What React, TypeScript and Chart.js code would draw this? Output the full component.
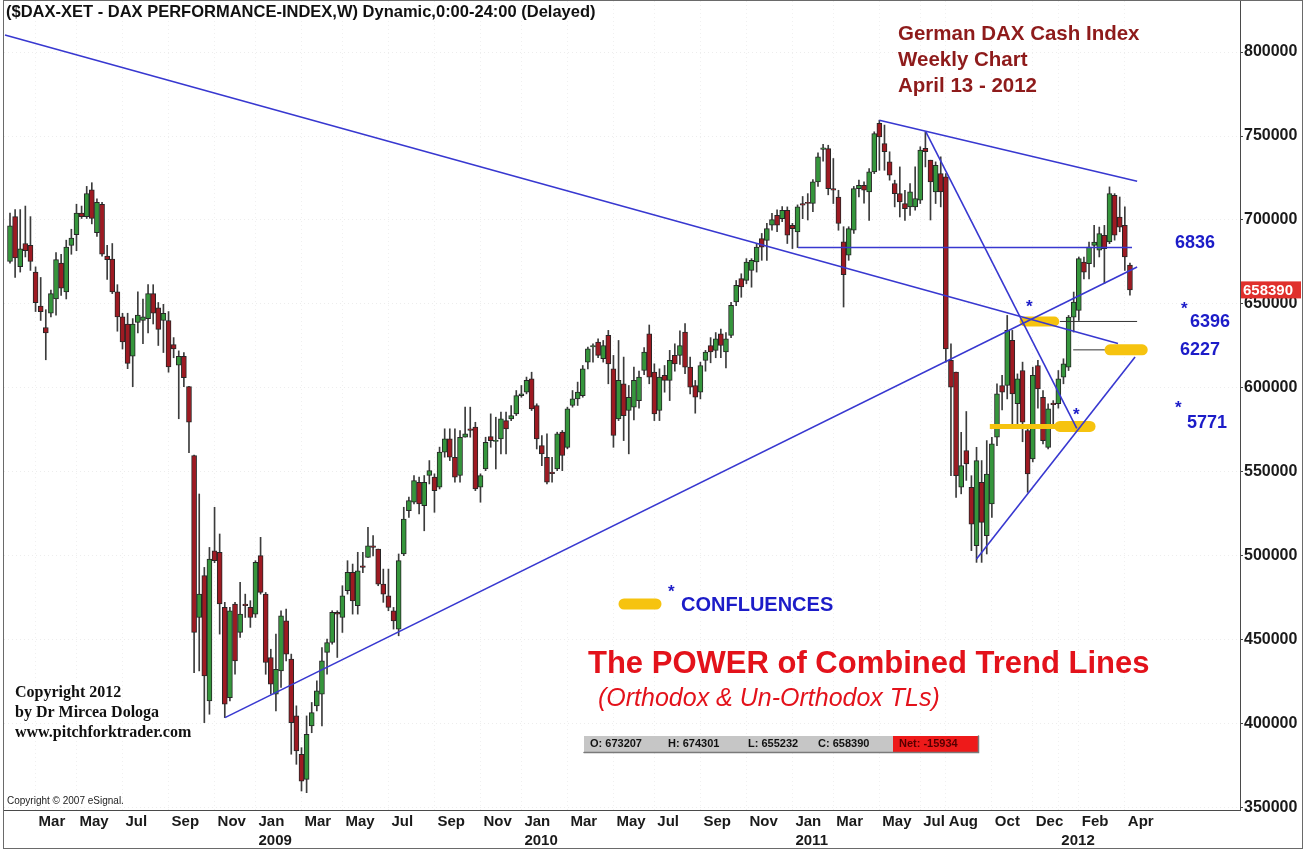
import React, { useEffect, useRef } from 'react';
import { Chart, registerables } from 'chart.js';

Chart.register(...registerables);

// Weekly candles, index 0 = week ending 1 Feb 2008, index 219 = week ending 13 Apr 2012 (index points)
const OPEN = [
  6753, 7020, 6722, 6860, 6849, 6690, 6487, 6360, 6445, 6530,
  6743, 6572, 6849, 6913, 7041, 7020, 7179, 6924, 7094, 6785,
  6768, 6572, 6423, 6381, 6189, 6391, 6402, 6413, 6562, 6477,
  6402, 6402, 6258, 6136, 6189, 6008, 5598, 4634, 4883, 4137,
  5031, 5022, 4694, 4157, 4714, 4545, 4714, 4694, 4654, 5002,
  4773, 4396, 4177, 4316, 4614, 4386, 4048, 3820, 3670, 3988,
  4108, 4177, 4426, 4485, 4664, 4634, 4793, 4902, 4704, 4942,
  4992, 5061, 5041, 4833, 4763, 4674, 4565, 5012, 5270, 5320,
  5439, 5300, 5479, 5469, 5409, 5618, 5697, 5588, 5479, 5707,
  5757, 5767, 5409, 5518, 5711, 5682, 5697, 5806, 5816, 5846,
  5955, 5975, 6055, 5896, 5657, 5588, 5499, 5518, 5737, 5647,
  5896, 5935, 5955, 6154, 6245, 6273, 6174, 6313, 6114, 5816,
  6025, 5866, 5886, 5925, 6104, 6323, 6094, 5866, 6075, 6045,
  6194, 6194, 6333, 6124, 6015, 5975, 6164, 6253, 6224, 6323,
  6214, 6313, 6512, 6651, 6641, 6700, 6750, 6889, 6879, 6969,
  7028, 7008, 7058, 6969, 6929, 7098, 7105, 7098, 7227, 7420,
  7425, 7187, 7137, 6870, 6790, 6939, 7187, 7207, 7167, 7286,
  7575, 7455, 7346, 7217, 7157, 7098, 7078, 7078, 7118, 7426,
  7356, 7167, 7277, 7257, 6164, 6094, 5409, 5628, 5409, 5061,
  5439, 5121, 5310, 5707, 6015, 6015, 6283, 5906, 6104, 5747,
  5578, 6134, 5945, 5647, 5910, 5906, 6065, 6124, 6422, 6462,
  6750, 6740, 6849, 6820, 6909, 6869, 7147, 7018, 6968, 6732.07,
];
const HIGH = [
  7041, 7062, 7062, 7083, 7020, 6721, 6658, 6466, 6583, 6806,
  6796, 6880, 6945, 7094, 7083, 7200, 7222, 7126, 7105, 6849,
  6860, 6615, 6445, 6445, 6413, 6572, 6530, 6615, 6615, 6509,
  6498, 6455, 6300, 6221, 6211, 6010, 5600, 5369, 4932, 5051,
  5290, 5131, 4724, 4694, 4724, 4843, 4773, 4734, 4972, 5111,
  4783, 4445, 4535, 4674, 4684, 4416, 4108, 3859, 4048, 4128,
  4257, 4455, 4505, 4674, 4674, 4823, 4972, 4952, 5022, 5022,
  5171, 5121, 5041, 4922, 4922, 4694, 5012, 5290, 5350, 5479,
  5469, 5479, 5568, 5489, 5648, 5757, 5757, 5757, 5747, 5886,
  5886, 5796, 5489, 5707, 5846, 5826, 5856, 5856, 5896, 5985,
  6015, 6065, 6094, 5906, 5717, 5727, 5588, 5737, 5747, 5886,
  5985, 6035, 6134, 6243, 6263, 6293, 6283, 6343, 6194, 6283,
  6184, 6015, 6124, 6100, 6240, 6375, 6144, 6114, 6134, 6224,
  6263, 6340, 6383, 6184, 6045, 6154, 6224, 6300, 6330, 6350,
  6330, 6510, 6640, 6680, 6770, 6770, 6860, 6920, 6980, 7040,
  7060, 7080, 7078, 6980, 7090, 7140, 7157, 7240, 7400, 7450,
  7445, 7366, 7177, 6960, 6960, 7200, 7237, 7227, 7306, 7525,
  7594, 7565, 7406, 7237, 7316, 7177, 7217, 7316, 7436, 7525,
  7356, 7346, 7376, 7277, 6263, 6094, 5736, 5860, 5478, 5647,
  5568, 5687, 5707, 6025, 6075, 6432, 6343, 6084, 6154, 5776,
  6124, 6164, 5985, 5906, 5925, 6104, 6174, 6432, 6571, 6780,
  6780, 6869, 6968, 6958, 6968, 7197, 7157, 7137, 7078, 6743.01,
];
const LOW = [
  6743, 6658, 6690, 6780, 6700, 6455, 6402, 6168, 6423, 6434,
  6551, 6530, 6796, 6817, 7009, 7009, 6977, 6902, 6785, 6647,
  6562, 6338, 6232, 6115, 6008, 6328, 6264, 6328, 6381, 6253,
  6211, 6094, 6180, 5817, 6008, 5615, 4306, 4316, 4008, 4058,
  4960, 4535, 4038, 4138, 4296, 4515, 4634, 4575, 4634, 4773,
  4296, 4177, 4078, 4217, 4376, 3820, 3760, 3601, 3591, 3948,
  4078, 3988, 4296, 4475, 4396, 4545, 4773, 4654, 4654, 4900,
  4992, 5000, 4823, 4724, 4674, 4565, 4525, 5002, 5230, 5310,
  5250, 5150, 5429, 5260, 5399, 5588, 5568, 5439, 5439, 5707,
  5707, 5389, 5320, 5508, 5647, 5518, 5608, 5608, 5806, 5836,
  5945, 5965, 5866, 5637, 5538, 5429, 5439, 5508, 5508, 5638,
  5886, 5896, 5945, 6114, 6154, 6180, 6154, 6025, 5647, 5806,
  5687, 5608, 5810, 5880, 6080, 6025, 5806, 5806, 5975, 5925,
  6100, 6140, 6085, 5965, 5850, 5935, 6100, 6150, 6180, 6180,
  6120, 6300, 6490, 6540, 6620, 6600, 6690, 6760, 6760, 6940,
  6930, 6990, 6860, 6830, 6836, 7008, 7000, 7050, 7200, 7350,
  7150, 7098, 6939, 6482, 6760, 6920, 7137, 7100, 6998, 7276,
  7296, 7296, 7237, 7078, 7018, 6998, 7028, 7058, 7098, 7316,
  7000, 7098, 7078, 6154, 5478, 5349, 5370, 5450, 5032, 4962,
  4962, 5012, 5230, 5657, 5870, 5935, 5786, 5786, 5680, 5379,
  5560, 5880, 5667, 5637, 5767, 5880, 6025, 6104, 6333, 6402,
  6650, 6650, 6720, 6780, 6621, 6859, 6880, 6930, 6700, 6552.32,
];
const CLOSE = [
  6966, 6775, 6828, 6817, 6753, 6508, 6455, 6328, 6562, 6764,
  6594, 6839, 6892, 7041, 7020, 7158, 7009, 7105, 6796, 6764,
  6572, 6423, 6274, 6147, 6381, 6434, 6423, 6562, 6445, 6349,
  6445, 6125, 6232, 6189, 6062, 5796, 4545, 4773, 4286, 4982,
  4972, 4714, 4118, 4674, 4376, 4654, 4704, 4634, 4962, 4783,
  4366, 4237, 4326, 4644, 4416, 4008, 3840, 3660, 3939, 4068,
  4197, 4376, 4485, 4664, 4654, 4763, 4902, 4733, 4912, 4932,
  5061, 5051, 4833, 4773, 4694, 4614, 4972, 5220, 5330, 5449,
  5310, 5439, 5508, 5389, 5618, 5697, 5588, 5469, 5707, 5727,
  5747, 5399, 5479, 5677, 5687, 5688, 5816, 5757, 5836, 5955,
  5965, 6045, 5876, 5697, 5608, 5439, 5490, 5727, 5598, 5876,
  5935, 5975, 6114, 6233, 6253, 6194, 6253, 6144, 5717, 6045,
  5836, 5945, 6045, 6065, 6214, 6065, 5846, 6065, 6045, 6164,
  6144, 6253, 6124, 6005, 5945, 6134, 6214, 6214, 6293, 6253,
  6293, 6492, 6611, 6601, 6750, 6760, 6839, 6839, 6949, 7002,
  6969, 7058, 6909, 6949, 7078, 7088, 7098, 7227, 7376, 7430,
  7187, 7177, 6979, 6675, 6949, 7187, 7207, 7177, 7286, 7515,
  7495, 7406, 7267, 7157, 7108, 7068, 7167, 7128, 7416, 7406,
  7227, 7326, 7167, 6233, 6005, 5478, 5538, 5548, 5190, 5568,
  5200, 5488, 5667, 5965, 5975, 6343, 5965, 6055, 5796, 5489,
  6075, 5995, 5687, 5876, 5900, 6055, 6144, 6422, 6511, 6770,
  6690, 6839, 6869, 6919, 6829, 7157, 6909, 6958, 6780, 6583.90,
];

// The chart prints prices x100 (658390 = 6583.90)
const PRICE_SCALE = 100;

// x-axis ticks (week index of the labelled bar)
const TICK_WEEKS = [5, 13, 22, 31, 40, 48, 57, 65, 74, 83, 92, 100, 109, 118, 126, 135, 144, 153, 161, 170, 178, 183, 192, 200, 205, 209, 218];
const TICK_MONTHS = ['Mar', 'May', 'Jul', 'Sep', 'Nov', 'Jan', 'Mar', 'May', 'Jul', 'Sep', 'Nov', 'Jan', 'Mar', 'May', 'Jul', 'Sep', 'Nov', 'Jan', 'Mar', 'May', 'Jul', 'Aug', 'Oct', 'Dec', '', 'Feb', 'Apr'];
const TICK_YEARS = ['', '', '', '', '', '2009', '', '', '', '', '', '2010', '', '', '', '', '', '2011', '', '', '', '', '', '', '2012', '', ''];
const Y_TICKS = [350000, 400000, 450000, 500000, 550000, 600000, 650000, 700000, 750000, 800000];

// Trend lines: [week index, index points]
const TL_LONG_DOWN = [[-0.98, 8101], [216.66, 6265]];
const TL_LONG_UP = [[42.04, 4038], [220.4, 6720]];
const TL_TOP = [[170.0, 7594], [220.4, 7231]];
const TL_STEEP = [[179.1, 7525], [208.6, 5759]];
const TL_SUPPORT = [[189.0, 4982], [220.0, 6184]];
const LEVEL_6836 = [[154.1, 6836], [219.4, 6836]];
const LEVEL_6396 = [[205.3, 6396], [220.4, 6396]];
const LEVEL_6227 = [[207.9, 6227], [214.5, 6227]];
// Confluence zones (yellow)
const CONF_6396 = [[198.4, 6396], [204.2, 6396]];
const CONF_6227 = [[215.1, 6227], [221.4, 6227]];
const CONF_5771 = [[205.3, 5771], [211.2, 5771]];
const CONF_5771_TAIL = [[191.6, 5771], [205.3, 5771]];

const SANS = 'Arial, "Liberation Sans", Helvetica, sans-serif';
const SERIF = '"Times New Roman", "Liberation Serif", Times, serif';
const GREEN = '#35963c';
const RED = '#9e1a22';
const BLUE = '#3838d0';
const TEXT_BLUE = '#1c1cc8';
const YELLOW = '#f6c30f';
const TITLE_RED = '#e3121b';

const annotationPlugin = {
  id: 'daxAnnotations',
  afterDraw(chart: any) {
    const { ctx, chartArea: a, scales } = chart;
    ctx.save();
    // plot frame & outer frame
    ctx.lineWidth = 1;
    ctx.strokeStyle = '#4a4a4a';
    ctx.strokeRect(a.left - 0.5, a.top - 0.5, a.right - a.left + 1, a.bottom - a.top + 1);
    ctx.strokeStyle = '#6a6a6a';
    ctx.strokeRect(a.left - 0.5, 0.5, 1303 - a.left, 848);

    const t = (s: string, x: number, y: number, font: string, color: string, align: CanvasTextAlign = 'left') => {
      ctx.font = font;
      ctx.fillStyle = color;
      ctx.textAlign = align;
      ctx.textBaseline = 'middle';
      ctx.fillText(s, x, y);
    };

    t('($DAX-XET - DAX PERFORMANCE-INDEX,W) Dynamic,0:00-24:00 (Delayed)', 6, 12, `bold 16.5px ${SANS}`, '#111');

    const dk = '#8e1b1b';
    const gf = `bold 20.5px ${SANS}`;
    t('German DAX Cash Index', 898, 34, gf, dk);
    t('Weekly Chart', 898, 60, gf, dk);
    t('April 13 - 2012', 898, 86, gf, dk);

    const nf = `bold 18px ${SANS}`;
    const af = `bold 17px ${SANS}`;
    t('6836', 1175, 243, nf, TEXT_BLUE);
    t('*', 1181, 309, af, TEXT_BLUE);
    t('6396', 1190, 322, nf, TEXT_BLUE);
    t('6227', 1180, 350, nf, TEXT_BLUE);
    t('*', 1175, 408, af, TEXT_BLUE);
    t('5771', 1187, 423, nf, TEXT_BLUE);
    t('*', 1026, 307, af, TEXT_BLUE);
    t('*', 1073, 415, af, TEXT_BLUE);

    // legend swatch
    ctx.strokeStyle = YELLOW;
    ctx.lineWidth = 11;
    ctx.lineCap = 'round';
    ctx.beginPath();
    ctx.moveTo(624, 604);
    ctx.lineTo(656, 604);
    ctx.stroke();
    t('*', 668, 592, af, TEXT_BLUE);
    t('CONFLUENCES', 681, 605, `bold 20px ${SANS}`, TEXT_BLUE);

    t('The POWER of Combined Trend Lines', 588, 664, `bold 31px ${SANS}`, TITLE_RED);
    t('(Orthodox & Un-Orthodox TLs)', 598, 699, `italic 25px ${SANS}`, TITLE_RED);

    // OHLC status bar
    ctx.fillStyle = '#c6c6c6';
    ctx.fillRect(584, 736, 394, 16);
    ctx.fillStyle = '#ee1a1a';
    ctx.fillRect(893, 736, 85, 16);
    ctx.strokeStyle = '#7a7a7a';
    ctx.lineWidth = 1.5;
    ctx.beginPath();
    ctx.moveTo(584, 752.5);
    ctx.lineTo(978.5, 752.5);
    ctx.lineTo(978.5, 736);
    ctx.stroke();
    const sf = `bold 11px ${SANS}`;
    t('O: 673207', 590, 744, sf, '#111');
    t('H: 674301', 668, 744, sf, '#111');
    t('L: 655232', 748, 744, sf, '#111');
    t('C: 658390', 818, 744, sf, '#111');
    t('Net: -15934', 899, 744, sf, '#550000');

    const cf = `bold 16px ${SERIF}`;
    t('Copyright 2012', 15, 693, cf, '#111');
    t('by Dr Mircea Dologa', 15, 713, cf, '#111');
    t('www.pitchforktrader.com', 15, 733, cf, '#111');
    t('Copyright \u00a9 2007 eSignal.', 7, 801, `10px ${SANS}`, '#222');

    // last price box on the axis
    const last = CLOSE[CLOSE.length - 1] * PRICE_SCALE;
    const py = scales.y.getPixelForValue(last);
    ctx.fillStyle = '#e0302c';
    ctx.fillRect(a.right + 1, py - 8.5, 60, 17);
    t(String(Math.round(last)), a.right + 3, py + 0.5, `bold 15px ${SANS}`, '#fff');

    ctx.restore();
  },
};

export default function App() {
  const ref = useRef<HTMLCanvasElement>(null);

  useEffect(() => {
    document.body.style.margin = '0';
    const canvas = ref.current;
    if (!canvas) return;

    const wicks: any[] = [];
    const bodies: any[] = [];
    const bodyColors: string[] = [];
    for (let i = 0; i < CLOSE.length; i++) {
      const o = OPEN[i] * PRICE_SCALE;
      const c = CLOSE[i] * PRICE_SCALE;
      wicks.push({ x: i, y: [LOW[i] * PRICE_SCALE, HIGH[i] * PRICE_SCALE] });
      bodies.push({ x: i, y: [Math.min(o, c), Math.max(o, c)] });
      bodyColors.push(c >= o ? GREEN : RED);
    }

    const line = (pts: number[][], color: string, width: number, order: number, cap: CanvasLineCap = 'butt') => ({
      type: 'line' as const,
      data: pts.map((p) => ({ x: p[0], y: p[1] * PRICE_SCALE })),
      borderColor: color,
      backgroundColor: color,
      borderWidth: width,
      borderCapStyle: cap,
      pointRadius: 0,
      pointHoverRadius: 0,
      fill: false,
      tension: 0,
      order,
    });

    const chart = new Chart(canvas, {
      type: 'bar',
      data: {
        datasets: [
          {
            type: 'bar',
            data: wicks,
            backgroundColor: '#3c3c3c',
            barThickness: 1,
            grouped: false,
            order: 6,
          } as any,
          {
            type: 'bar',
            data: bodies,
            backgroundColor: bodyColors,
            borderColor: '#262626',
            borderWidth: 1,
            borderSkipped: false,
            barThickness: 5,
            grouped: false,
            order: 5,
          } as any,
          line(LEVEL_6396, '#333333', 1, 3),
          line(LEVEL_6227, '#333333', 1, 3),
          line(CONF_5771_TAIL, YELLOW, 5, 2),
          line(CONF_6396, YELLOW, 10, 2, 'round'),
          line(CONF_6227, YELLOW, 11, 2, 'round'),
          line(CONF_5771, YELLOW, 11, 2, 'round'),
          line(TL_LONG_DOWN, BLUE, 1.6, 1),
          line(TL_LONG_UP, BLUE, 1.6, 1),
          line(TL_TOP, BLUE, 1.6, 1),
          line(TL_STEEP, BLUE, 1.6, 1),
          line(TL_SUPPORT, BLUE, 1.6, 1),
          line(LEVEL_6836, BLUE, 1.6, 1),
        ],
      },
      options: {
        responsive: false,
        animation: false,
        devicePixelRatio: 1,
        events: [],
        layout: { padding: { left: 4, top: 1, right: 0, bottom: 0 } },
        plugins: { legend: { display: false }, tooltip: { enabled: false } },
        scales: {
          x: {
            type: 'linear',
            position: 'bottom',
            min: -1.173,
            max: 240.52,
            offset: false,
            grid: { display: true, color: 'rgba(0,0,0,0.06)', drawTicks: false, offset: false },
            border: { display: false, dash: [1, 3] },
            afterBuildTicks: (scale: any) => {
              scale.ticks = TICK_WEEKS.map((v) => ({ value: v }));
            },
            afterFit: (scale: any) => {
              scale.height = 42;
              scale.paddingLeft = 0;
              scale.paddingRight = 0;
            },
            ticks: {
              autoSkip: false,
              maxRotation: 0,
              minRotation: 0,
              align: 'start',
              labelOffset: 3,
              padding: 3,
              color: '#1a1a1a',
              font: { family: SANS, size: 15, weight: 'bold', lineHeight: 1.22 },
              callback: (value: any) => {
                const k = TICK_WEEKS.indexOf(Number(value));
                if (k < 0) return '';
                return TICK_YEARS[k] ? [TICK_MONTHS[k], TICK_YEARS[k]] : TICK_MONTHS[k];
              },
            },
          },
          y: {
            type: 'linear',
            position: 'right',
            min: 348800,
            max: 830360,
            grid: { color: 'rgba(0,0,0,0.07)', tickColor: '#444', tickLength: 3, tickBorderDash: [], drawTicks: true },
            border: { display: false, dash: [1, 3] },
            afterBuildTicks: (scale: any) => {
              scale.ticks = Y_TICKS.map((v) => ({ value: v }));
            },
            afterFit: (scale: any) => {
              scale.width = 72;
              scale.paddingTop = 0;
              scale.paddingBottom = 0;
            },
            ticks: {
              padding: 1,
              crossAlign: 'near',
              color: '#1a1a1a',
              font: { family: SANS, size: 16, weight: 'bold' },
              callback: (value: any) => String(value),
            },
          },
        },
      } as any,
      plugins: [annotationPlugin],
    });

    return () => chart.destroy();
  }, []);

  return (
    <div style={{ width: 1312, height: 852, position: 'relative', background: '#ffffff', overflow: 'hidden' }}>
      <style>{'body{margin:0}'}</style>
      <canvas ref={ref} width={1312} height={852} style={{ display: 'block' }} />
    </div>
  );
}
